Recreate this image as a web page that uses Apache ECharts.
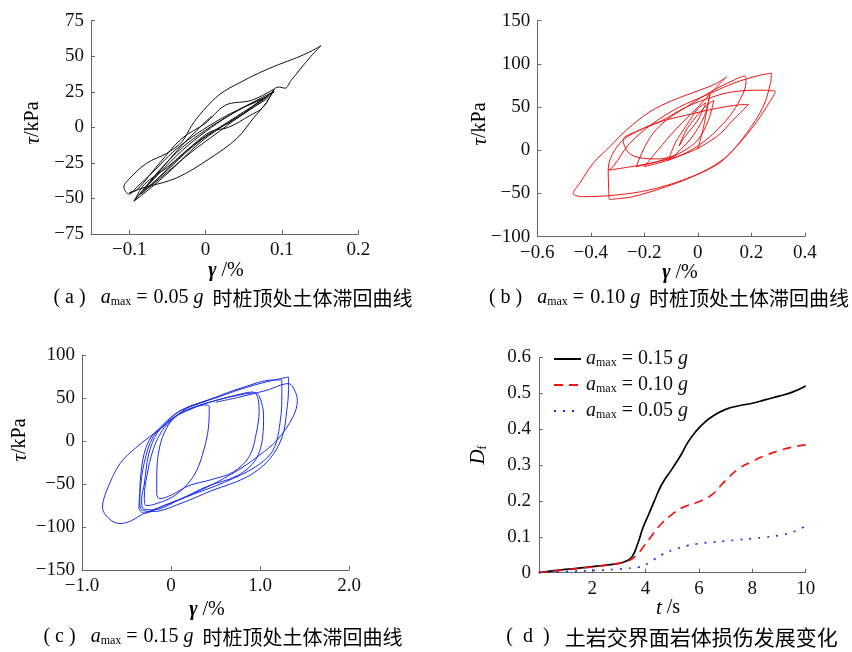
<!DOCTYPE html>
<html><head><meta charset="utf-8">
<script src="https://cdn.jsdelivr.net/npm/echarts@6/dist/echarts.min.js"></script>
<style>html,body{margin:0;padding:0;background:#fff}#c{width:852px;height:652px}</style>
</head><body><div id="c"></div>
<script>
// ---- panel (a): a_max = 0.05g hysteresis (gamma %, tau kPa)
const aGamma = [0.008,-0.015,-0.04,-0.065,-0.082,-0.078,-0.05,-0.02,0.01,0.04,0.065,0.082,0.08,0.05,0.02,-0.01,-0.045,-0.075,-0.094,-0.088,-0.06,-0.03,0.0,0.03,0.06,0.085,0.09,0.075,0.045,0.02,-0.01,-0.04,-0.07,-0.09,-0.1,-0.107,
  -0.099,-0.077,-0.051,-0.031,-0.018,-0.003,0.019,0.045,0.071,0.095,0.119,0.138,0.151,0.138,0.124,0.112,0.104,0.097,0.090,0.080,0.062,0.041,0.006,-0.038,-0.082,-0.1,
  -0.09,-0.06,-0.031,0.0,0.026,0.06,0.09,0.075,0.058,0.03,0.006,-0.02,-0.05,-0.08,-0.093,-0.085,-0.06,-0.03,0.0,0.03,0.06,0.078,
  0.05,0.02,-0.02,-0.06,-0.085,-0.07,-0.04,-0.01,0.03,0.07,0.088];
const aTau = [8,-4,-18,-34,-44,-43,-30,-15,-3,6,15,22,20,10,0,-12,-30,-44,-52,-48,-32,-16,-3,8,17,24,25,20,13,6,-4,-16,-32,-42,-47,-42,
  -35.7,-25.2,-18.3,-10.2,1.4,11.8,23.4,31.5,38.5,44,48.9,53.5,57.4,50,41,33,27.5,28.3,27,17.6,6,-7.8,-21.7,-35.6,-42.6,-46,
  -44,-25,-7.8,3,15.6,19,27,14,8.3,0,-3.2,-14,-28,-40,-51.5,-46,-30,-14,-2,8,17,21,
  10,-2,-18,-36,-47,-40,-24,-10,4,18,25];
// ---- panel (b): a_max = 0.10g
const bGamma = [0.0,0.02,0.045,0.025,-0.03,-0.11,-0.085,-0.04,0.0,0.03,0.0,-0.05,-0.07,-0.04,0.02,0.06,0.04,0.0,-0.06,-0.15,-0.23,
  -0.204,-0.167,-0.117,-0.042,0.05,0.14,0.175,0.18,0.16,0.12,0.06,0.0,-0.08,-0.15,-0.2,
  -0.15,-0.08,0.0,0.06,0.107,0.07,0.0075,-0.092,-0.179,-0.267,-0.329,-0.391,-0.441,-0.466,
  -0.43,-0.3,-0.18,-0.055,0.07,0.132,0.207,0.257,0.288,0.29,0.232,0.132,0.057,-0.042,-0.142,-0.217,-0.279,-0.32,-0.335,-0.333,-0.33,
  -0.3,-0.242,-0.117,0.0075,0.107,0.182,0.244,0.272,0.275,0.232,0.132,0.032,-0.067,-0.167,-0.254,-0.317,-0.335,
  -0.179,-0.042,0.07,0.132,0.19,0.15,0.07,-0.042,-0.142,-0.217,-0.279,-0.25,-0.15,-0.08];
const bTau = [1,25,65,40,12,-12,8,30,48,55,35,15,5,25,48,58,35,12,-2,-13,-19,
  0.3,19.6,35,50.3,68,82,86,78,60,40,20,5,-8,-15,-19,
  0,25,50,70,85,77.4,69.6,58,44.6,23.4,4.2,-15,-38,-50,
  -53.6,-51.6,-45.8,-34.3,-17,0.3,27.3,50.3,65.8,68,69.6,67.7,61.9,50.3,33,23.4,11.9,-5,-23,-45,-57,
  -56,-53.6,-42,-26.6,-7.4,19.6,50.3,78,89,87,77.4,63.9,50.3,31.2,8.1,-19,-23,
  -15,-3.5,15.7,35,53,52.5,48.5,40.8,33,23.4,11.9,-5,-10,-6];
// ---- panel (c): a_max = 0.15g
const cGamma = [0.40,0.176,0.026,-0.1,-0.2,-0.27,-0.3,-0.28,-0.2,0.0,0.15,0.28,0.37,0.42,0.43,0.38,0.2,0.05,-0.05,-0.13,-0.16,-0.16,-0.124,0.0,0.2,0.45,0.7,0.88,0.96,0.99,0.97,0.92,
  0.8,0.5,0.2,0.0,-0.15,-0.25,-0.3,-0.33,-0.32,-0.2,0.1,0.4,0.75,0.95,1.03,1.04,1.0,0.95,0.7,0.4,0.1,-0.05,-0.2,-0.3,-0.35,-0.36,-0.3,-0.1,0.25,0.6,0.95,1.15,1.23,1.245,1.245,
  1.15,0.8,0.45,0.1,-0.1,-0.25,-0.33,-0.35,-0.33,-0.2,0.1,0.45,0.85,1.1,1.25,1.3,1.32,1.32,1.25,0.9,0.5,0.1,-0.1,
  -0.385,-0.573,-0.72,-0.77,-0.7,-0.573,-0.45,-0.31,-0.1,0.25,0.55,0.81,1.0,1.19,1.37,1.42,1.37,1.32,1.075,0.775,0.5];
const cTau = [46.5,37.7,26,12,-10,-40,-65,-75,-74,-66,-54,-36,-10,15,40,42,36,28,15,-8,-40,-62,-67,-63,-52,-45,-36,-18,10,35,52,57,
  55,47,37,25,10,-15,-50,-68,-78,-80,-68,-53,-40,-22,5,30,50,56,52,44,32,20,5,-25,-60,-78,-84,-76,-62,-48,-30,-10,25,55,71,
  71,62,49,35,18,0,-30,-70,-80,-82,-73,-58,-42,-22,5,35,60,74.5,73,64,50,35,16,
  -7,-26.3,-57,-77,-90,-96,-93,-84.5,-76,-61,-46,-30.2,-16,0.8,27.9,47.3,62.8,66.7,59,51.2,45];
// ---- panel (d): damage development
const tSec = [0,1,2,3,3.3,3.5,3.7,3.9,4.1,4.3,4.6,5.0,5.3,5.6,5.9,6.2,6.5,7.0,7.5,8.0,8.5,9.0,9.5,10];
const df015 = [0,0.009,0.017,0.026,0.033,0.045,0.08,0.125,0.16,0.195,0.245,0.29,0.325,0.365,0.395,0.418,0.435,0.455,0.465,0.472,0.482,0.492,0.503,0.52];
const df010 = [0,0.008,0.016,0.026,0.032,0.039,0.052,0.07,0.09,0.11,0.137,0.163,0.178,0.188,0.195,0.205,0.218,0.257,0.29,0.31,0.327,0.34,0.35,0.356];
const df005 = [0,0.003,0.006,0.01,0.012,0.013,0.015,0.018,0.027,0.036,0.05,0.063,0.07,0.076,0.08,0.083,0.085,0.088,0.092,0.095,0.099,0.104,0.113,0.13];
// tick labels
const aXTicks = [-0.1,0,0.1,0.2];
const legendNames = ['0.15','0.10','0.05'];

const zip = (xs, ys) => xs.map((x, i) => [x, ys[i]]);
const SERIF = 'Liberation Serif';
const CJK = 'Noto Sans CJK SC';
const fmtNum = d => v => (v === 0 ? '0' : (v < 0 ? '\u2212' : '') + Math.abs(v).toFixed(d));

function axis(grid, min, max, interval, fmt, extra) {
  return Object.assign({
    type: 'value', gridIndex: grid, min, max, interval,
    axisLine: {show: true, onZero: false, lineStyle: {color: '#666', width: 1}},
    axisTick: {show: true, inside: true, length: 4, lineStyle: {color: '#666'}},
    splitLine: {show: false},
    axisLabel: {color: '#111', fontFamily: SERIF, fontSize: 19, margin: 7, formatter: fmt}
  }, extra || {});
}

const rich = {
  i: {fontFamily: SERIF, fontStyle: 'italic', fontSize: 20, color: '#111', lineHeight: 24},
  s: {fontFamily: SERIF, fontSize: 12, color: '#111', verticalAlign: 'bottom', lineHeight: 14, padding: [0, 0, 2, 0]},
  n: {fontFamily: SERIF, fontSize: 20, color: '#111', lineHeight: 24},
  e: {fontFamily: SERIF, fontSize: 20, color: '#111', lineHeight: 24, padding: [0, 6, 0, 5]},
  c: {fontFamily: CJK, fontSize: 20, color: '#111', lineHeight: 24},
  d: {fontFamily: CJK, fontSize: 21, color: '#111', lineHeight: 24},
  t: {fontFamily: SERIF, fontStyle: 'italic', fontSize: 21, color: '#111'},
  g: {fontFamily: SERIF, fontStyle: 'italic', fontWeight: 'bold', fontSize: 20, color: '#111'},
  r: {fontFamily: SERIF, fontSize: 20, color: '#111'},
  f: {fontFamily: SERIF, fontSize: 12, color: '#111', verticalAlign: 'bottom', lineHeight: 12}
};

function txt(x, y, text, rot) {
  return {type: 'text', x, y, rotation: rot || 0, silent: true,
    style: {text, rich, align: 'center', verticalAlign: 'middle', textAlign: 'center', textVerticalAlign: 'middle'}};
}
const cap = (l, v) => '{n|( ' + l + ' )   }{i|a}{s|max}{e|=}{n|' + v + ' }{i|g}{c|  时桩顶处土体滞回曲线}';

const chart = echarts.init(document.getElementById('c'), null, {renderer: 'canvas'});
chart.setOption({
  animation: false,
  grid: [
    {left: 91, top: 20.7, width: 267.3, height: 213.3},
    {left: 537.3, top: 20.7, width: 267.5, height: 216},
    {left: 82, top: 355, width: 267, height: 215},
    {left: 538.9, top: 357.3, width: 266.8, height: 215.4}
  ],
  xAxis: [
    axis(0, -0.15, 0.2, 0.05, fmtNum(1), {axisTick: {show: true, inside: true, length: 4, lineStyle: {color: '#666'}, customValues: aXTicks},
      axisLabel: {color: '#111', fontFamily: SERIF, fontSize: 19, margin: 7, formatter: fmtNum(1), customValues: aXTicks}}),
    axis(1, -0.6, 0.4, 0.2, fmtNum(1)),
    axis(2, -1, 2, 1, fmtNum(1)),
    axis(3, 0, 10, 2, v => (v === 0 ? '' : String(v)))
  ],
  yAxis: [
    axis(0, -75, 75, 25, fmtNum(0)),
    axis(1, -100, 150, 50, fmtNum(0)),
    axis(2, -150, 100, 50, fmtNum(0)),
    axis(3, 0, 0.6, 0.1, fmtNum(1), {axisLabel: {color: '#111', fontFamily: SERIF, fontSize: 19, margin: 8, formatter: fmtNum(1)}})
  ],
  legend: {
    left: 548, top: 344, orient: 'vertical', itemWidth: 27, itemHeight: 14, itemGap: 4,
    data: legendNames,
    itemStyle: {opacity: 0},
    formatter: n => '{i|a}{s|max}{n| = ' + n + ' }{i|g}',
    textStyle: {rich}
  },
  series: [
    {type: 'line', xAxisIndex: 0, yAxisIndex: 0, data: zip(aGamma, aTau), smooth: 0.35, showSymbol: false, symbol: 'none', lineStyle: {color: '#111', width: 1}},
    {type: 'line', xAxisIndex: 1, yAxisIndex: 1, data: zip(bGamma, bTau), smooth: 0.35, showSymbol: false, symbol: 'none', lineStyle: {color: '#f01414', width: 1}},
    {type: 'line', xAxisIndex: 2, yAxisIndex: 2, data: zip(cGamma, cTau), smooth: 0.35, showSymbol: false, symbol: 'none', lineStyle: {color: '#1a2ee8', width: 1}},
    {name: '0.15', type: 'line', xAxisIndex: 3, yAxisIndex: 3, data: zip(tSec, df015), smooth: true, symbol: 'none', color: '#000', lineStyle: {color: '#000', width: 1.7}},
    {name: '0.10', type: 'line', xAxisIndex: 3, yAxisIndex: 3, data: zip(tSec, df010), smooth: true, symbol: 'none', color: '#f01414', lineStyle: {color: '#f01414', width: 1.7, type: [9, 6]}},
    {name: '0.05', type: 'line', xAxisIndex: 3, yAxisIndex: 3, data: zip(tSec, df005), smooth: true, symbol: 'none', color: '#1a2ee8', lineStyle: {color: '#1a2ee8', width: 1.7, type: [2, 7]}}
  ],
  graphic: [
    txt(33, 123, '{t|τ}{r|/kPa}', Math.PI / 2),
    txt(480, 124, '{t|τ}{r|/kPa}', Math.PI / 2),
    txt(20, 440, '{t|τ}{r|/kPa}', Math.PI / 2),
    txt(478, 455, '{t|D}{f|f}', Math.PI / 2),
    txt(226, 271, '{g|γ}{r| /%}'),
    txt(680, 273, '{g|γ}{r| /%}'),
    txt(207, 610, '{g|γ}{r| /%}'),
    txt(668, 608, '{t|t}{r| /s}'),
    txt(233, 298, cap('a', '0.05')),
    txt(669, 298, cap('b', '0.10')),
    txt(223, 637, cap('c', '0.15')),
    txt(672, 637, '{n|(  d  )   }{d|土岩交界面岩体损伤发展变化}')
  ]
});
</script></body></html>
